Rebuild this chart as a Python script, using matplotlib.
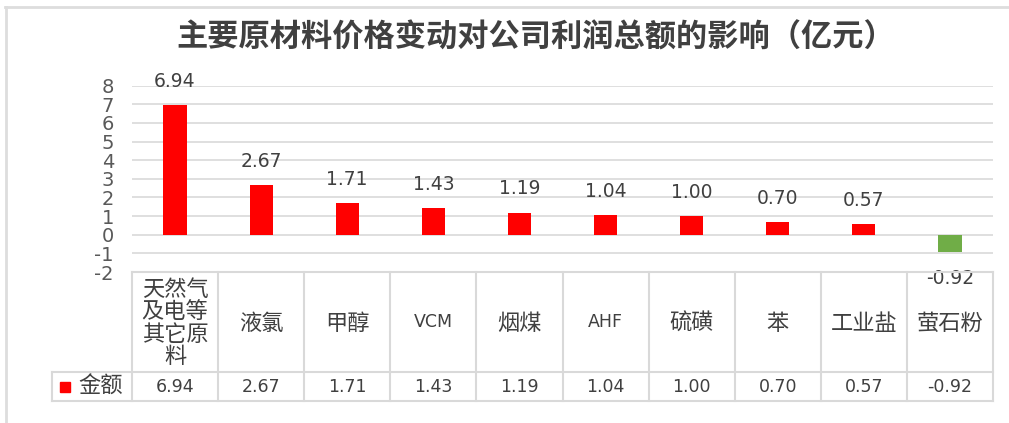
import matplotlib
matplotlib.use("Agg")
import matplotlib.pyplot as plt
from matplotlib.lines import Line2D
from matplotlib.patches import Rectangle

plt.rcParams['font.family'] = ['DejaVu Sans', 'Noto Sans CJK SC']

# 数据
categories = ['天然气\n及电等\n其它原\n料', '液氯', '甲醇', 'VCM', '烟煤',
              'AHF', '硫磺', '苯', '工业盐', '萤石粉']
values = [6.94, 2.67, 1.71, 1.43, 1.19, 1.04, 1.00, 0.70, 0.57, -0.92]
yticks = [-2, -1, 0, 1, 2, 3, 4, 5, 6, 7, 8]
series_name = '金额'
title = '主要原材料价格变动对公司利润总额的影响（亿元）'

red = '#FF0000'
green = '#70AD47'
grid_c = '#D9D9D9'
txt_c = '#404040'

W, H = 1009, 423
fig = plt.figure(figsize=(W / 100, H / 100), dpi=100)

def box(x0, y0, x1, y1):
    # 像素坐标 -> figure 坐标 (y 从上往下)
    return [x0 / W, (H - y1) / H, (x1 - x0) / W, (y1 - y0) / H]

# 外框
fig.add_artist(Line2D([5 / W, 1.0], [1 - 7 / H, 1 - 7 / H], color='#DDDDDD', lw=2))
fig.add_artist(Line2D([5.5 / W, 5.5 / W], [0, 1 - 7 / H], color='#DDDDDD', lw=2))

fig.text(536 / W, 1 - 38 / H, title, ha='center', va='center', fontsize=22.5,
         fontweight='bold', color=txt_c, family=['Noto Sans CJK SC'])

# 柱状图
ax = fig.add_axes(box(132, 85.7, 993, 272))
x = list(range(len(values)))
colors = [red if v >= 0 else green for v in values]
ax.bar(x, values, width=0.27, color=colors, zorder=3)
ax.set_xlim(-0.5, len(values) - 0.5)
ax.set_ylim(-2, 8)
ax.set_yticks(yticks)
ax.set_yticklabels([str(t) for t in yticks])
ax.tick_params(axis='y', length=0, pad=13, labelsize=14, labelcolor='#595959')
ax.set_xticks([])
for s in ax.spines.values():
    s.set_visible(False)
for t in yticks:
    ax.axhline(t, color=grid_c, lw=1.2, zorder=1)

for xi, v in zip(x, values):
    off = 17 if v >= 0 else -19
    ax.annotate(f'{v:.2f}', (xi, max(v, 0) if v >= 0 else v), xytext=(0, off),
                textcoords='offset points', ha='center', va='center',
                fontsize=13.5, color=txt_c, annotation_clip=False, zorder=5)

# 数据表
tx = fig.add_axes(box(52, 272, 993, 401))
tx.set_xlim(-0.5 - 80 / 86.1, len(values) - 0.5)
tx.set_ylim(129, 0)
tx.axis('off')
n = len(values)
lc = dict(color=grid_c, lw=1.5, clip_on=False)
tx.plot([-0.5, n - 0.5], [0, 0], **lc)
tx.plot([-0.5 - 80 / 86.1, n - 0.5], [100, 100], **lc)
tx.plot([-0.5 - 80 / 86.1, n - 0.5], [129, 129], **lc)
tx.plot([-0.5 - 80 / 86.1] * 2, [100, 129], **lc)
for i in range(n + 1):
    tx.plot([i - 0.5, i - 0.5], [0, 129], **lc)

for i, (c, v) in enumerate(zip(categories, values)):
    if c.isascii():
        tx.text(i, 50, c, ha='center', va='center', fontsize=12.5, color=txt_c)
    else:
        tx.text(i, 51, c, ha='center', va='center', fontsize=16, color=txt_c,
                linespacing=0.95, family=['Noto Sans CJK SC'])
    tx.text(i, 115, f'{v:.2f}', ha='center', va='center', fontsize=12.5, color=txt_c)

kx = -0.5 - 72 / 86.1
tx.add_patch(Rectangle((kx, 110), 10 / 86.1, 10, color=red, clip_on=False))
tx.text(-0.5 - 54 / 86.1, 114.5, series_name, ha='left', va='center', fontsize=16,
        color=txt_c, family=['Noto Sans CJK SC'])

fig.savefig('out.png', dpi=100)
